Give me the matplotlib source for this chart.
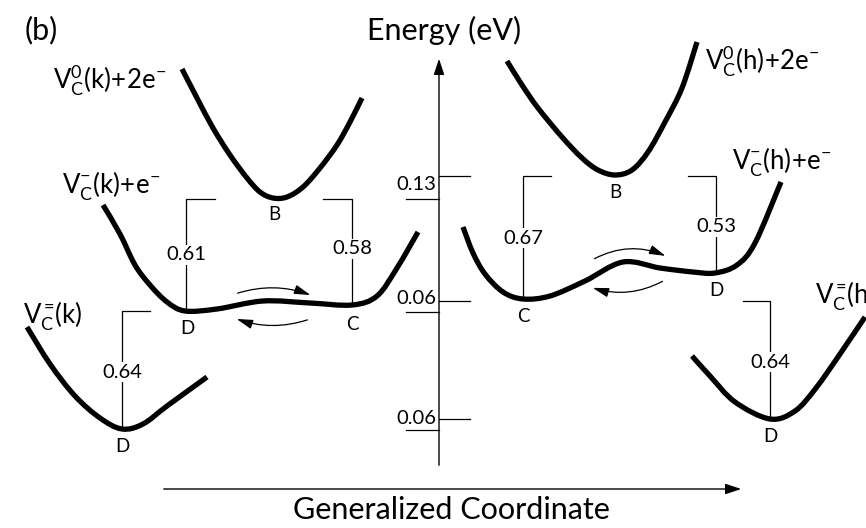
import numpy as np
import matplotlib.pyplot as plt
from matplotlib.path import Path
from matplotlib.patches import FancyArrowPatch, PathPatch

plt.rcParams["font.family"] = ["Lato", "DejaVu Sans"]
plt.rcParams["mathtext.fontset"] = "custom"
plt.rcParams["mathtext.rm"] = "Lato"
plt.rcParams["mathtext.it"] = "Lato"

# --------------------------------------------------------------
# Potential curves (pixel coordinates)
# --------------------------------------------------------------
k_neutral = [(182, 69), (197, 98), (213, 128), (230, 155), (247, 178), (260, 192), (273, 198),
             (287, 197), (303, 187), (320, 168), (337, 145), (350, 122), (362, 98)]
k_single = [(103, 205), (120, 234), (135, 265), (150, 285), (167, 302), (185, 311), (217, 309),
            (263, 301), (310, 303), (352, 305), (377, 296), (397, 268), (418, 232)]
k_double = [(27, 327), (50, 364), (75, 396), (100, 418), (122, 429),
            (143, 424), (167, 406), (207, 377)]

h_neutral = [(507, 61), (522, 85), (538, 108), (562, 137), (582, 158), (598, 170), (615, 175),
             (632, 170), (648, 152), (665, 122), (682, 88), (697, 42)]
h_single = [(463, 227), (473, 253), (485, 274), (503, 292), (523, 299), (550, 296),
            (585, 281), (623, 262), (660, 268), (693, 272), (715, 273),
            (737, 265), (755, 243), (781, 182)]
h_double = [(692, 356), (710, 376), (735, 402), (770, 419), (795, 411), (816, 388),
            (840, 354), (865, 317)]

curves = [k_neutral, k_single, k_double, h_neutral, h_single, h_double]

curve_labels = [r"$\mathregular{V_C^0(k)\!+\!2e^{−}}$", r"$\mathregular{V_C^{−}(k)\!+\!e^{−}}$",
                r"$\mathregular{V_C^{=}\!(k)}$", r"$\mathregular{V_C^0(h)\!+\!2e^{−}}$",
                r"$\mathregular{V_C^{−}(h)\!+\!e^{−}}$", r"$\mathregular{V_C^{=}\!(h)}$"]
curve_label_pos = [(53, 80), (62, 185), (23, 315), (705, 61), (732, 161), (815, 296)]

# barrier brackets: (corner x, top y, foot y, arm end x, value, label y)
brackets = [(186, 199, 311, 215, "0.61", 255), (352, 199, 305, 323, "0.58", 249),
            (122, 311, 429, 150, "0.64", 372), (523, 176, 299, 551, "0.67", 238),
            (716, 176, 273, 688, "0.53", 227), (770, 301, 419, 743, "0.64", 362)]

points = ["B", "D", "C", "D", "B", "C", "D", "D"]
point_pos = [(274, 215), (187, 328), (352, 324), (122, 447), (615, 193), (523, 317),
             (716, 291), (770, 437)]

# energy axis ticks: (left underline y, right tick y, label, label y)
ticks = [(199, 176, "0.13", 185), (312, 301, "0.06", 299), (430, 419, "0.06", 418)]

# hopping arrows: (start, end, bend)
hops = [((235, 294), (313, 296), -0.18), ((310, 319), (234, 318), -0.18),
        ((592, 260), (668, 257), -0.25), ((665, 280), (590, 287), -0.22)]


def smooth_path(pts):
    # Catmull-Rom through the read points, handed to matplotlib as cubic Bezier segments
    p = np.asarray(pts, dtype=float)
    verts, codes = [p[0]], [Path.MOVETO]
    for i in range(len(p) - 1):
        p0 = p[max(i - 1, 0)]
        p3 = p[min(i + 2, len(p) - 1)]
        verts += [p[i] + (p[i + 1] - p0) / 6, p[i + 1] - (p3 - p[i]) / 6, p[i + 1]]
        codes += [Path.CURVE4] * 3
    return Path(verts, codes)


fig = plt.figure(figsize=(8.66, 5.28), dpi=100)
ax = fig.add_axes([0, 0, 1, 1])
ax.set_xlim(0, 866)
ax.set_ylim(528, 0)
ax.axis("off")

for c in curves:
    ax.add_patch(PathPatch(smooth_path(c), fill=False, color="black", lw=3.8,
                           capstyle="butt", joinstyle="round"))

for (x, y), lab in zip(curve_label_pos, curve_labels):
    ax.text(x, y, lab, fontsize=18.5, ha="left", va="center")

for cx, top, foot, arm, val, ly in brackets:
    ax.plot([arm, cx, cx], [top, top, foot], color="black", lw=0.9)
    ax.text(cx, ly, val, fontsize=14.5, ha="center", va="center",
            bbox=dict(facecolor="white", edgecolor="none", pad=1))

for p, (x, y) in zip(points, point_pos):
    ax.text(x, y, p, fontsize=13.5, ha="center", va="center")

# axes
ax.annotate("", xy=(439, 56), xytext=(439, 468),
            arrowprops=dict(arrowstyle="-|>,head_length=0.6,head_width=0.2", color="black",
                            lw=1.0, mutation_scale=16))
ax.annotate("", xy=(744, 489), xytext=(161, 489),
            arrowprops=dict(arrowstyle="-|>,head_length=0.6,head_width=0.2", color="black",
                            lw=1.0, mutation_scale=16))
for ly, ry, lab, ty in ticks:
    ax.plot([406, 439], [ly, ly], color="black", lw=0.9)
    ax.plot([439, 470], [ry, ry], color="black", lw=0.9)
    ax.text(436, ty, lab, fontsize=14.5, ha="right", va="center")

for s, e, rad in hops:
    ax.add_patch(FancyArrowPatch(s, e, connectionstyle=f"arc3,rad={rad}",
                                 arrowstyle="-|>,head_length=0.7,head_width=0.2",
                                 mutation_scale=14, lw=0.9, color="black"))

ax.text(444, 30, "Energy (eV)", fontsize=22, ha="center", va="center")
ax.text(41, 30, "(b)", fontsize=22, ha="center", va="center")
ax.text(451, 510, "Generalized Coordinate", fontsize=22, ha="center", va="center")

fig.savefig("out.png", dpi=100)
